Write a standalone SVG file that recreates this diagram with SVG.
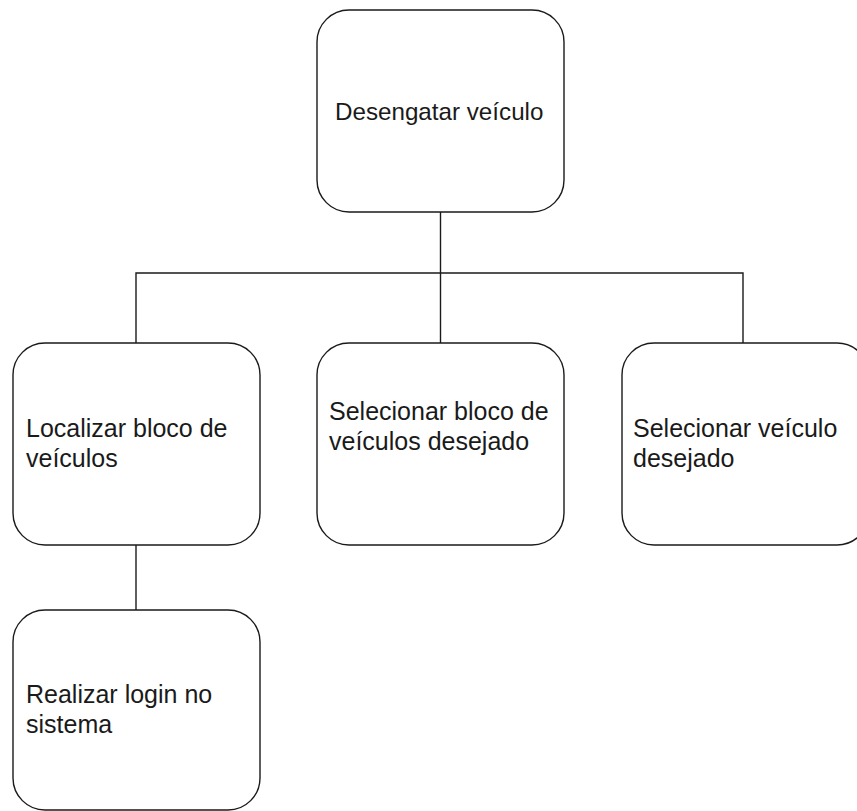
<svg xmlns="http://www.w3.org/2000/svg" width="857" height="811" viewBox="0 0 857 811">
  <style>
    .box { fill: #ffffff; stroke: #1a1a1a; stroke-width: 1.4; }
    .link { fill: none; stroke: #1a1a1a; stroke-width: 1.4; }
    .label { font-family: "Liberation Sans", Arial, sans-serif; font-size: 25px; fill: #1a1a1a; }
    .title { font-size: 24.2px; }
  </style>
  <rect width="857" height="811" fill="#ffffff"/>

  <g id="connectors">
    <path class="link" d="M440.5 212 V273"/>
    <path class="link" d="M136 343 V273 H743 V343"/>
    <path class="link" d="M440.5 273 V343"/>
    <path class="link" d="M136 545 V610"/>
  </g>

  <g id="desengatar-veiculo">
    <rect class="box" x="317" y="10" width="247" height="202" rx="32" ry="32"/>
    <text class="label title" x="335" y="120">Desengatar veículo</text>
  </g>

  <g id="localizar-bloco">
    <rect class="box" x="13" y="343" width="247" height="202" rx="32" ry="32"/>
    <text class="label" x="26" y="437">Localizar bloco de</text>
    <text class="label" x="26" y="467">veículos</text>
  </g>

  <g id="selecionar-bloco">
    <rect class="box" x="317" y="343" width="247" height="202" rx="32" ry="32"/>
    <text class="label" x="329" y="420">Selecionar bloco de</text>
    <text class="label" x="329" y="450">veículos desejado</text>
  </g>

  <g id="selecionar-veiculo">
    <rect class="box" x="622" y="343" width="247" height="202" rx="32" ry="32"/>
    <text class="label" x="633" y="437">Selecionar veículo</text>
    <text class="label" x="633" y="467">desejado</text>
  </g>

  <g id="realizar-login">
    <rect class="box" x="13" y="610" width="247" height="200" rx="32" ry="32"/>
    <text class="label" x="26" y="703">Realizar login no</text>
    <text class="label" x="26" y="733">sistema</text>
  </g>
</svg>
